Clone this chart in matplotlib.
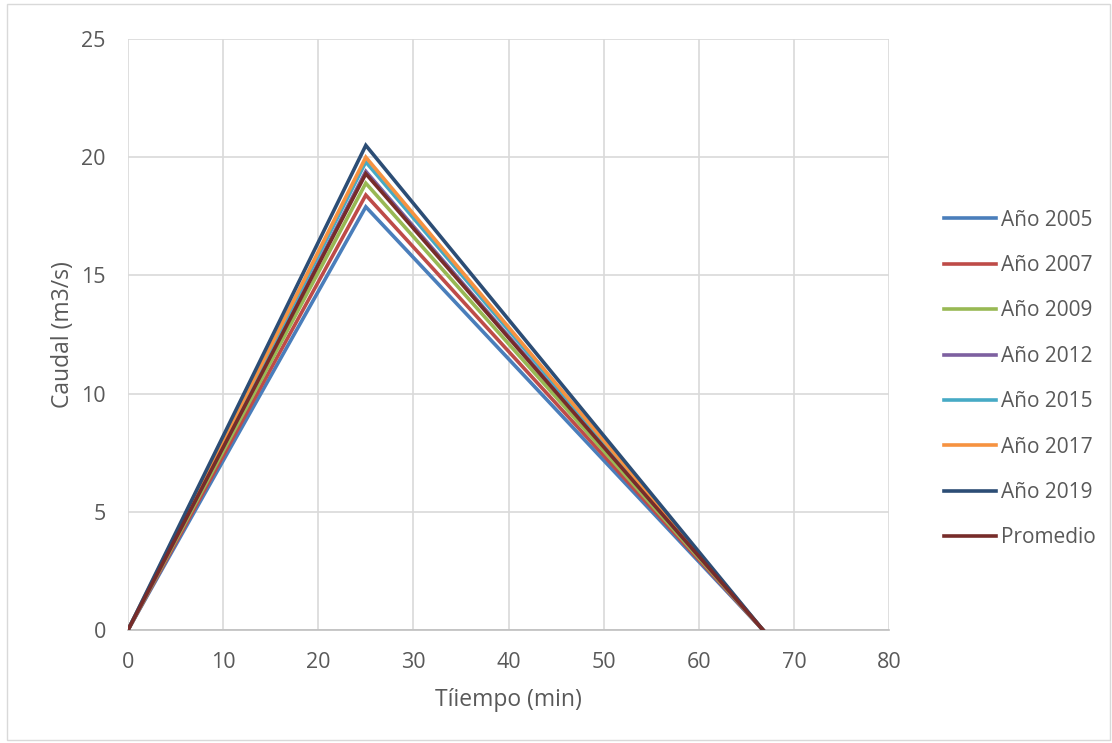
import matplotlib
matplotlib.use("Agg")
import matplotlib.pyplot as plt
from matplotlib.patches import Rectangle

plt.rcParams['font.family'] = ['Open Sans', 'DejaVu Sans']

tiempo = [0, 25, 66.75]
series_names = ["Año 2005", "Año 2007", "Año 2009", "Año 2012", "Año 2015", "Año 2017", "Año 2019", "Promedio"]
peaks = [17.9, 18.4, 18.9, 19.4, 19.8, 20.0, 20.5, 19.3]
colors = ["#4a7ebb", "#be4b48", "#98b954", "#7d60a0", "#46aac5", "#f69240", "#2c4d75", "#772c2a"]
x_ticks = [0, 10, 20, 30, 40, 50, 60, 70, 80]
y_ticks = [0, 5, 10, 15, 20, 25]

fig = plt.figure(figsize=(11.12, 7.43), dpi=100)
ax = fig.add_axes([128/1112, 1-630/743, (889-128)/1112, (630-39)/743])

draw_order = [0, 1, 2, 3, 4, 5, 7, 6]
handles = {}
for i in draw_order:
    ln, = ax.plot(tiempo, [0, peaks[i], 0], color=colors[i], lw=2.6, label=series_names[i],
                  solid_joinstyle='miter', zorder=3+i)
    handles[i] = ln

ax.set_xlim(0, 80)
ax.set_ylim(0, 25)
ax.set_xticks(x_ticks)
ax.set_yticks(y_ticks)
ax.grid(True, color="#d9d9d9", lw=1.2)
ax.set_axisbelow(True)
for s in ["top", "right", "left"]:
    ax.spines[s].set_visible(False)
ax.spines["bottom"].set_color("#bfbfbf")
ax.spines["bottom"].set_linewidth(1.2)
ax.tick_params(length=0, labelsize=15.5, colors="#595959")
ax.tick_params(axis='y', pad=16)
ax.tick_params(axis='x', pad=16)
ax.set_xlabel("Tíiempo (min)", fontsize=16.5, color="#595959", labelpad=11)
ax.set_ylabel("Caudal (m3/s)", fontsize=16.5, color="#595959", labelpad=4.5)

leg = fig.legend([handles[i] for i in range(8)], series_names,
                 loc="upper left", bbox_to_anchor=(925/1112, 1-191/743),
                 frameon=False, fontsize=15, labelcolor="#595959",
                 handlelength=2.5, handletextpad=0.25, labelspacing=1.17)

fig.patches.append(Rectangle((0.006, 0.004), 0.992, 0.99, transform=fig.transFigure,
                             fill=False, edgecolor="#d9d9d9", lw=1.0))

fig.savefig("out.png", dpi=100)
